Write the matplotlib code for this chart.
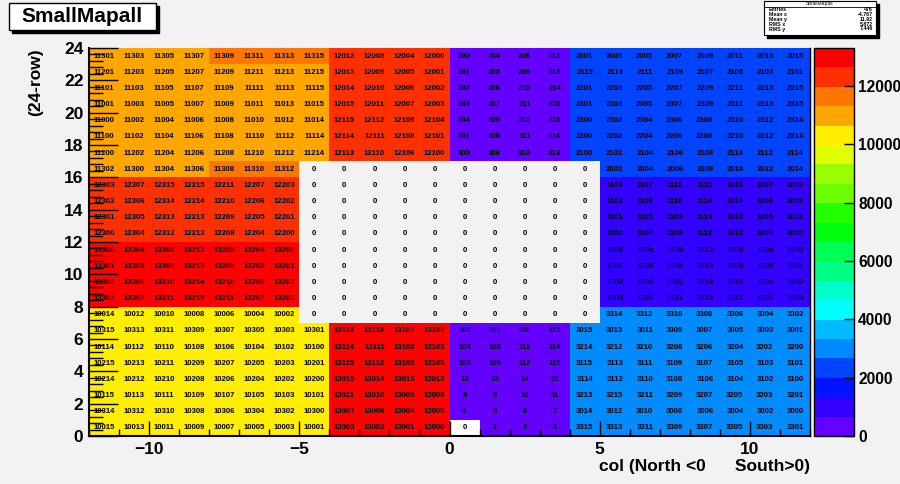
import colorsys
import numpy as np
import matplotlib
matplotlib.use("Agg")
import matplotlib.pyplot as plt
from matplotlib.colors import ListedColormap, BoundaryNorm
from matplotlib.patches import Rectangle

plt.rcParams['font.family'] = ['Liberation Sans', 'DejaVu Sans']

# bin edges (col, 24-row)
x_edges = np.arange(-12, 13)
y_edges = np.arange(0, 25)

# bin contents, listed from the top row (23) down to row 0
rows_top_down = [
    [11301, 11303, 11305, 11307, 11309, 11311, 11313, 11315, 12012, 12008, 12004, 12000, 200, 204, 208, 212, 2001, 2003, 2005, 2007, 2009, 2011, 2013, 2015],
    [11201, 11203, 11205, 11207, 11209, 11211, 11213, 11215, 12013, 12009, 12005, 12001, 201, 205, 209, 213, 2115, 2113, 2111, 2109, 2107, 2105, 2103, 2101],
    [11101, 11103, 11105, 11107, 11109, 11111, 11113, 11115, 12014, 12010, 12006, 12002, 202, 206, 210, 214, 2201, 2203, 2205, 2207, 2209, 2211, 2213, 2215],
    [11001, 11003, 11005, 11007, 11009, 11011, 11013, 11015, 12015, 12011, 12007, 12003, 203, 207, 211, 215, 2301, 2303, 2305, 2307, 2309, 2311, 2313, 2315],
    [11000, 11002, 11004, 11006, 11008, 11010, 11012, 11014, 12115, 12112, 12109, 12104, 304, 309, 312, 315, 2300, 2302, 2304, 2306, 2308, 2310, 2312, 2314],
    [11100, 11102, 11104, 11106, 11108, 11110, 11112, 11114, 12114, 12111, 12108, 12101, 301, 308, 311, 314, 2200, 2202, 2204, 2206, 2208, 2210, 2212, 2214],
    [11200, 11202, 11204, 11206, 11208, 11210, 11212, 11214, 12113, 12110, 12106, 12100, 300, 306, 310, 313, 2100, 2102, 2104, 2106, 2108, 2110, 2112, 2114],
    [11302, 11300, 11304, 11306, 11308, 11310, 11312, 0, 0, 0, 0, 0, 0, 0, 0, 0, 0, 2002, 2004, 2006, 2008, 2010, 2012, 2014],
    [12303, 12307, 12315, 12215, 12211, 12207, 12203, 0, 0, 0, 0, 0, 0, 0, 0, 0, 0, 1103, 1107, 1111, 1115, 1015, 1007, 1003],
    [12302, 12306, 12314, 12214, 12210, 12206, 12202, 0, 0, 0, 0, 0, 0, 0, 0, 0, 0, 1102, 1106, 1110, 1114, 1014, 1006, 1002],
    [12301, 12305, 12313, 12213, 12209, 12205, 12201, 0, 0, 0, 0, 0, 0, 0, 0, 0, 0, 1101, 1105, 1109, 1113, 1013, 1005, 1001],
    [12300, 12304, 12312, 12212, 12208, 12204, 12200, 0, 0, 0, 0, 0, 0, 0, 0, 0, 0, 1100, 1104, 1108, 1112, 1012, 1004, 1000],
    [13300, 13304, 13308, 13212, 13208, 13204, 13200, 0, 0, 0, 0, 0, 0, 0, 0, 0, 0, 1300, 1304, 1308, 1212, 1208, 1204, 1200],
    [13301, 13305, 13309, 13213, 13209, 13205, 13201, 0, 0, 0, 0, 0, 0, 0, 0, 0, 0, 1301, 1305, 1309, 1213, 1209, 1205, 1201],
    [13302, 13306, 13310, 13214, 13210, 13206, 13202, 0, 0, 0, 0, 0, 0, 0, 0, 0, 0, 1302, 1306, 1310, 1214, 1210, 1206, 1202],
    [13303, 13307, 13311, 13215, 13211, 13207, 13203, 0, 0, 0, 0, 0, 0, 0, 0, 0, 0, 1303, 1307, 1311, 1215, 1211, 1207, 1203],
    [10014, 10012, 10010, 10008, 10006, 10004, 10002, 0, 0, 0, 0, 0, 0, 0, 0, 0, 0, 3314, 3312, 3310, 3308, 3306, 3304, 3302],
    [10315, 10313, 10311, 10309, 10307, 10305, 10303, 10301, 13113, 13110, 13107, 13102, 102, 107, 110, 113, 3015, 3013, 3011, 3009, 3007, 3005, 3003, 3001],
    [10114, 10112, 10110, 10108, 10106, 10104, 10102, 10100, 13114, 13111, 13108, 13103, 103, 108, 111, 114, 3214, 3212, 3210, 3208, 3206, 3204, 3202, 3200],
    [10215, 10213, 10211, 10209, 10207, 10205, 10203, 10201, 13115, 13112, 13109, 13105, 105, 109, 112, 115, 3115, 3113, 3111, 3109, 3107, 3105, 3103, 3101],
    [10214, 10212, 10210, 10208, 10206, 10204, 10202, 10200, 13015, 13014, 13013, 13012, 12, 13, 14, 15, 3114, 3112, 3110, 3108, 3106, 3104, 3102, 3100],
    [10115, 10113, 10111, 10109, 10107, 10105, 10103, 10101, 13011, 13010, 13009, 13008, 8, 9, 10, 11, 3213, 3215, 3211, 3209, 3207, 3205, 3203, 3201],
    [10314, 10312, 10310, 10308, 10306, 10304, 10302, 10300, 13007, 13006, 13004, 13005, 4, 5, 6, 7, 3014, 3012, 3010, 3008, 3006, 3004, 3002, 3000],
    [10015, 10013, 10011, 10009, 10007, 10005, 10003, 10001, 13003, 13002, 13001, 13000, 0, 1, 2, 3, 3315, 3313, 3311, 3309, 3307, 3305, 3303, 3301],
]
white_bins = [(0, 0)]  # (col, row) of the empty bin drawn white

stats_names = ["Entries", "Mean x", "Mean y", "RMS x", "RMS y"]
stats_values = ["476", "-4.767", "11.92", "5.872", "7.446"]
cbar_ticks = [0, 2000, 4000, 6000, 8000, 10000, 12000]

counts = np.array(rows_top_down[::-1])

# ROOT "pretty" palette, 20 contour levels
n_lev = 20
zmax = 13303
pal = []
for k in range(n_lev):
    idx = int((k + 0.99) * 50 / n_lev)
    hue = 280 - (idx + 1) * 5.6
    pal.append(colorsys.hls_to_rgb(hue / 360.0, 0.5, 1.0))
cmap = ListedColormap(pal)
cmap.set_over(pal[-1])
norm = BoundaryNorm(np.linspace(0, zmax, n_lev + 1), cmap.N)

W, H = 900, 484
bg = '#f2f2f2'
fig = plt.figure(figsize=(W / 100, H / 100), dpi=100, facecolor=bg)

def fx(px):
    return px / W

def fy(py):
    return 1 - py / H

ax = fig.add_axes([fx(89), fy(436), fx(810) - fx(89), fy(48) - fy(436)])
ax.set_facecolor(bg)
mesh = ax.pcolormesh(x_edges, y_edges, np.ma.masked_equal(counts, 0), cmap=cmap, norm=norm)
for (cx, cy) in white_bins:
    ax.add_patch(Rectangle((x_edges[cx + 12], y_edges[cy]), 1, 1, fc='white', ec='none', zorder=1.5))

for i in range(len(y_edges) - 1):
    for j in range(len(x_edges) - 1):
        ax.text(x_edges[j] + 0.5, y_edges[i] + 0.5, str(counts[i, j]), ha='center', va='center',
                fontsize=5.6, fontweight='bold', zorder=3)

ax.set_xlim(-12, 12)
ax.set_ylim(0, 24)
ax.set_xticks([-10, -5, 0, 5, 10])
ax.set_xticks(np.arange(-12, 13), minor=True)
ax.set_yticks(np.arange(0, 25, 2))
ax.set_yticks(np.arange(0, 24.01, 0.4), minor=True)
ax.tick_params(axis='x', which='major', direction='in', length=11, width=1, pad=4, labelsize=12.5)
ax.tick_params(axis='x', which='minor', direction='in', length=5, width=1)
ax.tick_params(axis='y', which='major', direction='in', length=21, width=1, pad=4, labelsize=12.5)
ax.tick_params(axis='y', which='minor', direction='in', length=10, width=1)
for lab in ax.get_xticklabels() + ax.get_yticklabels():
    lab.set_fontweight('bold')
ax.spines['top'].set_visible(False)
ax.spines['left'].set_linewidth(1.5)
ax.spines['bottom'].set_linewidth(1.5)
ax.spines['right'].set_linewidth(1)

cax = fig.add_axes([fx(814), fy(436), fx(854) - fx(814), fy(48) - fy(436)])
cb = fig.colorbar(mesh, cax=cax, ticks=cbar_ticks)
cb.outline.set_linewidth(1)
cax.tick_params(direction='in', length=7, width=1, pad=3, labelsize=11.2)
cax.minorticks_off()
cax.set_yticklabels([str(t) for t in cbar_ticks], fontweight='bold')

fig.text(fx(36), fy(48), "(24-row)", rotation=90, ha='center', va='top', fontsize=12.5, fontweight='bold')
fig.text(fx(810), fy(466), "col (North <0      South>0)", ha='right', va='center', fontsize=12.5, fontweight='bold')

# title box with shadow
fig.add_artist(Rectangle((fx(12), fy(33)), fx(147), fy(6) - fy(33), transform=fig.transFigure, fc='black', ec='black'))
fig.add_artist(Rectangle((fx(9), fy(30)), fx(147), fy(3) - fy(30), transform=fig.transFigure, fc='white', ec='black', lw=1))
fig.text(fx(82), fy(17), "SmallMapall", ha='center', va='center', fontsize=15, fontweight='bold')

# stats box with shadow
fig.add_artist(Rectangle((fx(767), fy(38)), fx(112), fy(4) - fy(38), transform=fig.transFigure, fc='black', ec='black'))
fig.add_artist(Rectangle((fx(764), fy(35)), fx(112), fy(1) - fy(35), transform=fig.transFigure, fc='white', ec='black', lw=0.8))
fig.add_artist(plt.Line2D([fx(764), fx(876)], [fy(6.5), fy(6.5)], transform=fig.transFigure, color='black', lw=0.6))
fig.text(fx(820), fy(3.8), "SmallMapall", ha='center', va='center', fontsize=3.6)
for k, (nm, val) in enumerate(zip(stats_names, stats_values)):
    yy = [9.6, 14.6, 19.2, 24.4, 29.0][k]
    fig.text(fx(769), fy(yy), nm, ha='left', va='center', fontsize=3.8, fontweight='bold')
    fig.text(fx(873), fy(yy), val, ha='right', va='center', fontsize=3.8, fontweight='bold')

fig.savefig("out.png", dpi=100, facecolor=bg)
